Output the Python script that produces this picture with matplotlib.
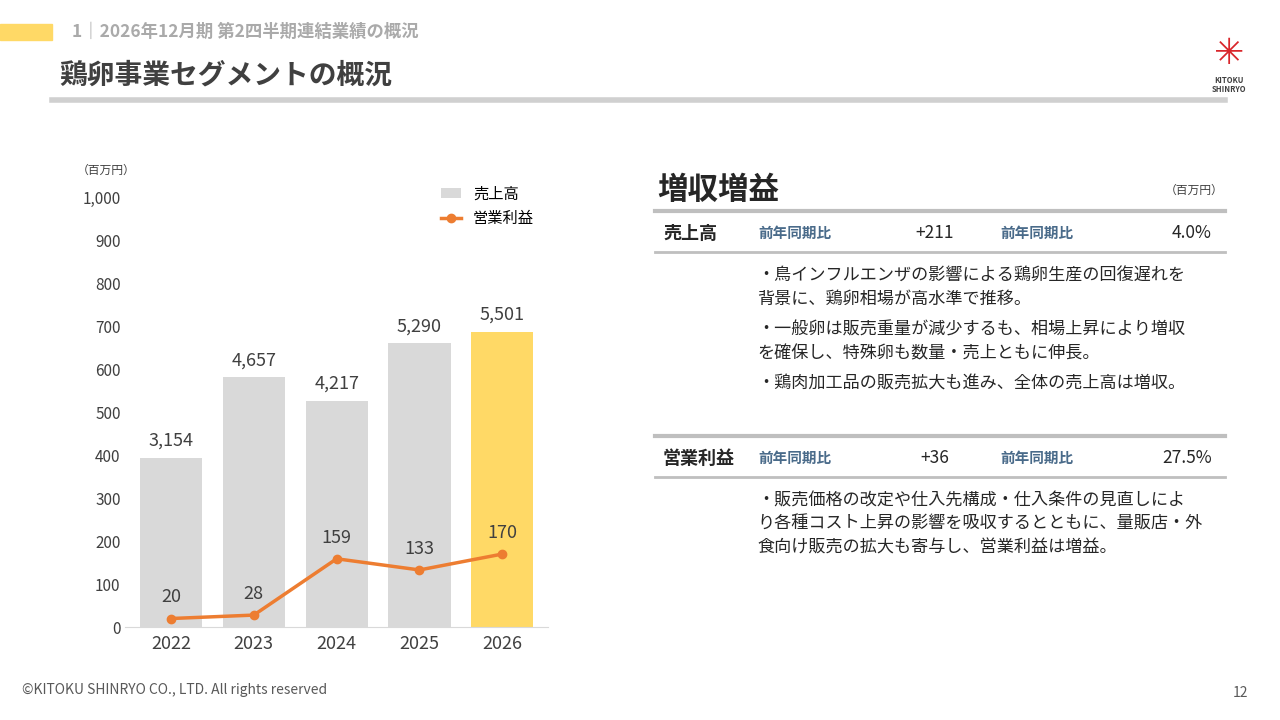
import matplotlib.pyplot as plt
import numpy as np

plt.rcParams['font.family'] = ['Noto Sans CJK JP', 'DejaVu Sans']

years = ['2022', '2023', '2024', '2025', '2026']
sales = [3154, 4657, 4217, 5290, 5501]   # 売上高 (百万円)
profit = [20, 28, 159, 133, 170]          # 営業利益 (百万円)
bar_h = [s / 8 for s in sales]            # bars drawn at 1/8 scale on the slide

fig = plt.figure(figsize=(12.8, 7.2), dpi=100)

# header
fig.patches.append(plt.Rectangle((0, 0.945), 0.041, 0.021, transform=fig.transFigure, color='#FFD966'))
fig.text(0.056, 0.955, '1｜2026年12月期 第2四半期連結業績の概況', fontsize=12.5, color='#AAAAAA', weight='bold', va='center')
fig.text(0.046, 0.895, '鶏卵事業セグメントの概況', fontsize=20, color='#404040', weight='bold', va='center')
fig.add_artist(plt.Line2D([0.041, 0.957], [0.861, 0.861], color='#D0D0D0', lw=4))
fig.text(0.96, 0.925, '✳', fontsize=26, color='#D9262B', ha='center', va='center', family=['DejaVu Sans'])
fig.text(0.96, 0.882, 'KITOKU\nSHINRYO', fontsize=5.5, color='#404040', ha='center', va='center', weight='bold', linespacing=1.1)

# chart
ax = fig.add_axes([0.098, 0.129, 0.33, 0.597])
x = np.arange(len(years))
colors = ['#D9D9D9'] * 4 + ['#FFD966']
bars = ax.bar(x, bar_h, width=0.75, color=colors, label='売上高')
ln, = ax.plot(x, profit, color='#ED7D31', lw=2.5, marker='o', markersize=6, label='営業利益')
for i in x:
    ax.text(i, bar_h[i] + 18, f'{sales[i]:,}', ha='center', va='bottom', fontsize=13, color='#404040')
    ax.text(i, profit[i] + 28, str(profit[i]), ha='center', va='bottom', fontsize=13, color='#404040')
ax.set_ylim(0, 1000)
ax.set_xlim(-0.55, 4.55)
ax.set_yticks(range(0, 1001, 100))
ax.set_yticklabels([f'{v:,}' for v in range(0, 1001, 100)])
ax.set_xticks(x)
ax.set_xticklabels(years)
ax.tick_params(axis='y', length=0, labelsize=11, labelcolor='#404040')
ax.tick_params(axis='x', length=0, labelsize=13, labelcolor='#404040', pad=6)
for s in ['top', 'right', 'left']:
    ax.spines[s].set_visible(False)
ax.spines['bottom'].set_color('#D9D9D9')
ax.legend([bars, ln], ['売上高', '営業利益'], loc='upper right', bbox_to_anchor=(1.0, 1.06),
          frameon=False, fontsize=11, handlelength=1.3)
fig.text(0.06, 0.758, '（百万円）', fontsize=8.5, color='#404040')

# right panel
def line(y, c='#BFBFBF', lw=2.5):
    fig.add_artist(plt.Line2D([655 / 1280, 1225 / 1280], [1 - y / 720, 1 - y / 720], color=c, lw=lw))

def t(xp, yp, s, **kw):
    fig.text(xp / 1280, 1 - yp / 720, s, va='center', **kw)

t(657, 190, '増収増益', fontsize=22, weight='bold', color='#262626')
t(1165, 190, '（百万円）', fontsize=8.5, color='#404040')
blue = '#4A6B8A'
for y0, name, diff, pct in [(211, '売上高', '+211', '4.0%'), (436, '営業利益', '+36', '27.5%')]:
    line(y0, '#BFBFBF', 3)
    line(y0 + 41, '#BFBFBF', 2)
    yr = y0 + 22
    t(663, yr, name, fontsize=13, weight='bold', color='#262626')
    t(758, yr, '前年同期比', fontsize=10.5, weight='bold', color=blue)
    t(935, yr, diff, fontsize=12.5, ha='center', color='#262626')
    t(1000, yr, '前年同期比', fontsize=10.5, weight='bold', color=blue)
    t(1212, yr, pct, fontsize=12.5, ha='right', color='#262626')

bullets = [
    (276, '・鳥インフルエンザの影響による鶏卵生産の回復遅れを'),
    (299, '背景に、鶏卵相場が高水準で推移。'),
    (330, '・一般卵は販売重量が減少するも、相場上昇により増収'),
    (353, 'を確保し、特殊卵も数量・売上ともに伸長。'),
    (384, '・鶏肉加工品の販売拡大も進み、全体の売上高は増収。'),
    (501, '・販売価格の改定や仕入先構成・仕入条件の見直しによ'),
    (524, 'り各種コスト上昇の影響を吸収するとともに、量販店・外'),
    (548, '食向け販売の拡大も寄与し、営業利益は増益。'),
]
for yp, s in bullets:
    t(757, yp, s, fontsize=12.3, color='#262626')

# footer
t(22, 690, '©KITOKU SHINRYO CO., LTD. All rights reserved', fontsize=10, color='#595959')
t(1248, 693, '12', fontsize=10, color='#595959', ha='right')

fig.savefig('out.png')
